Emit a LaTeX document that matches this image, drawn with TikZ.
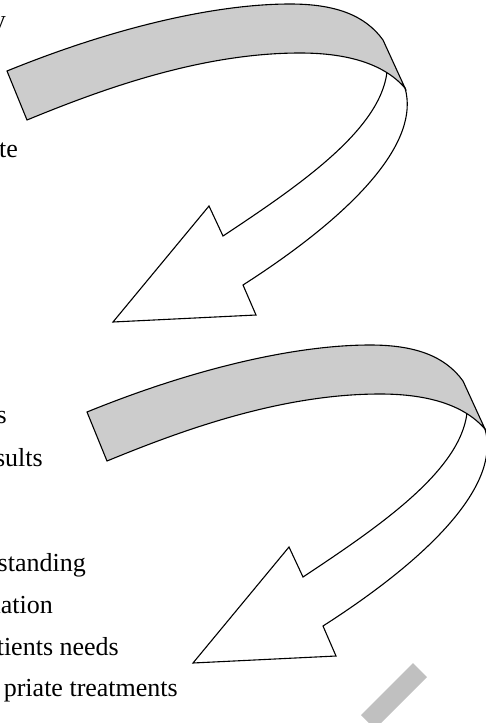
\documentclass[tikz,border=0pt]{standalone}
\usepackage{fontspec}
\setmainfont{Liberation Serif}
\definecolor{bandgray}{RGB}{204,204,204}
\definecolor{markgray}{RGB}{192,192,192}
\tikzset{
  band/.style={draw=black, line width=1.1pt, fill=bandgray, line join=miter},
  face/.style={draw=black, line width=1.1pt, fill=white, line join=miter},
  cut/.style={anchor=base east, inner sep=0pt, font=\fontsize{26pt}{31pt}\selectfont},
}

\begin{document}
\begin{tikzpicture}[x=1pt, y=-1pt]
    \useasboundingbox (0,0) rectangle (486,723);
    % cut-off lines of text on the left
    \node[cut] (fragy) at (6,28) {y};
    \node[cut] (fragte) at (18,157) {te};
    \node[cut] (frags) at (7,423) {s};
    \node[cut] (fragsults) at (43,466) {sults};
    \node[cut] (fragstand) at (86,571) {standing};
    \node[cut] (fragnation) at (53,613) {nation};
    \node[cut] (fragneeds) at (119,655) {tients needs};
    \node[cut] (fragtreat) at (178,696) {priate treatments};
    % the two curved ribbon arrows
    \foreach \dx/\dy in {0/0, 80/341} {
      \begin{scope}[shift={(\dx,\dy)}]
        \draw[face] (387,72) .. controls (380,130) and (300,185) .. (223,236)
          -- (209,206) -- (113,322) -- (256,315) -- (243,285)
          .. controls (360,210) and (420,140) .. (405,88)
          .. controls (400,81) and (394,76) .. (387,72) -- cycle;
        \draw[band] (7,71) .. controls (120,25) and (220,4) .. (290,4)
          .. controls (335,4) and (365,15) .. (383,40) -- (405,88)
          .. controls (385,65) and (350,53) .. (300,53)
          .. controls (200,53) and (100,90) .. (27,120) -- cycle;
      \end{scope}
    }
    % watermark bar
    \fill[markgray] (413,663) -- (427,677) -- (375,729) -- (361,715) -- cycle;
  \end{tikzpicture}
\end{document}
